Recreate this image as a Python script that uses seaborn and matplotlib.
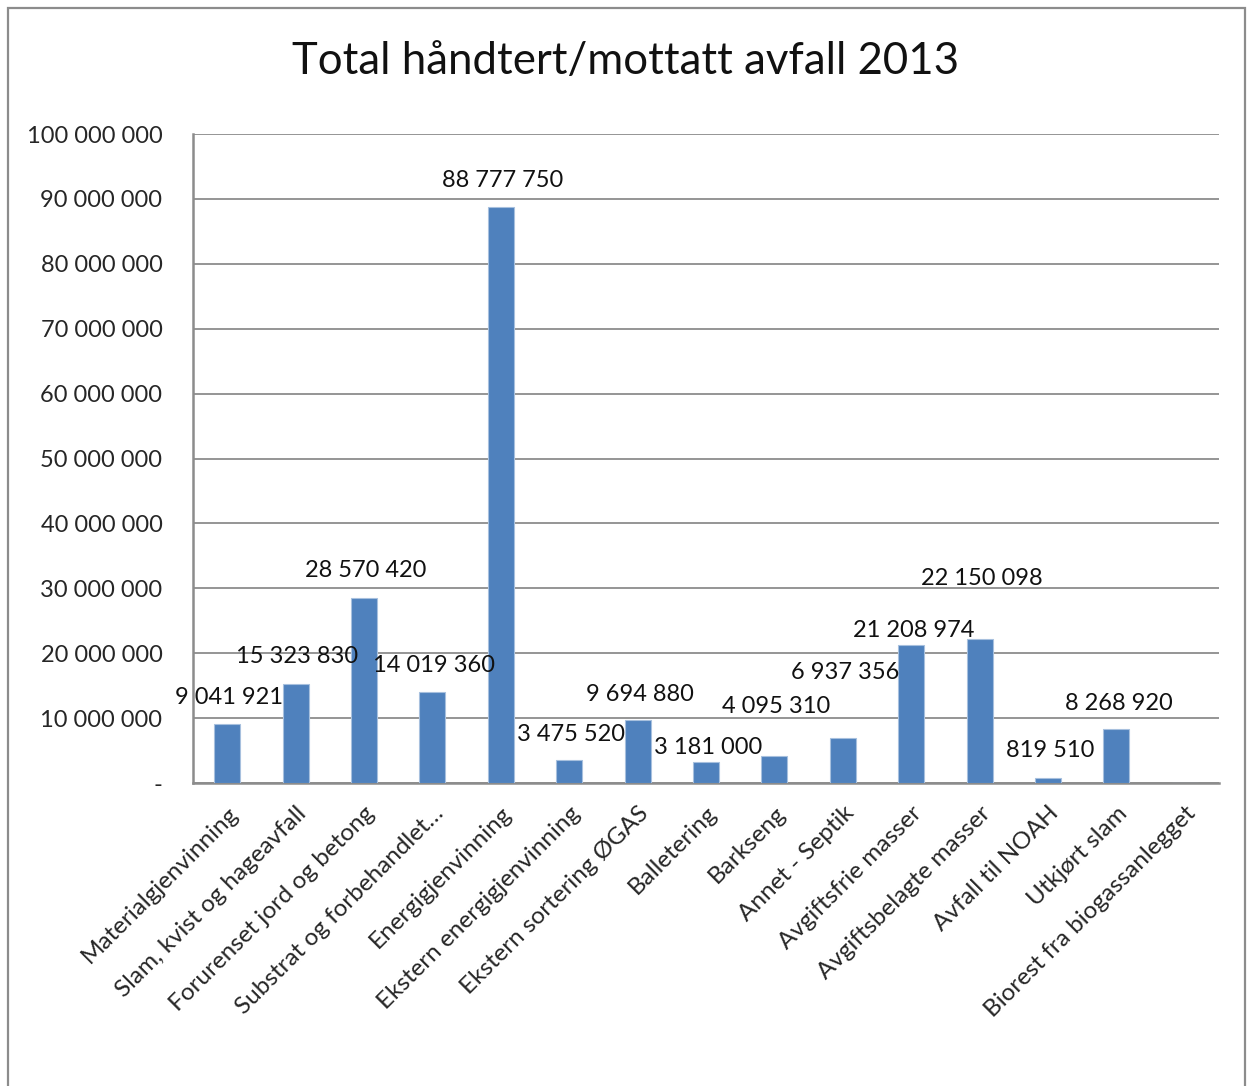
import matplotlib
matplotlib.use("Agg")
import matplotlib.pyplot as plt
import seaborn as sns
import pandas as pd
from matplotlib.patches import Rectangle

categories = [
    "Materialgjenvinning", "Slam, kvist og hageavfall", "Forurenset jord og betong",
    "Substrat og forbehandlet…", "Energigjenvinning", "Ekstern energigjenvinning",
    "Ekstern sortering ØGAS", "Balletering", "Barkseng", "Annet - Septik",
    "Avgiftsfrie masser", "Avgiftsbelagte masser", "Avfall til NOAH",
    "Utkjørt slam", "Biorest fra biogassanlegget",
]
values = [
    9041921, 15323830, 28570420, 14019360, 88777750, 3475520, 9694880,
    3181000, 4095310, 6937356, 21208974, 22150098, 819510, 8268920, 0,
]
y_ticks = list(range(0, 100000001, 10000000))

# label nudges in pixels above the bar top (Excel moved some of them by hand)
label_lift = [27, 27, 27, 27, 26, 26, 26, 15, 50, 65, 15, 61, 27, 26, 0]

df = pd.DataFrame({"kategori": categories, "verdi": values})

sns.set_theme(style="white")
plt.rcParams["font.family"] = ["Lato", "DejaVu Sans"]

fig = plt.figure(figsize=(12.48, 10.86), dpi=100)
ax = fig.add_axes([0.1546, 0.279, 0.8222, 0.5976])

sns.barplot(data=df, x="kategori", y="verdi", color="#4F81BD", width=0.38,
            edgecolor="#A7C0DE", linewidth=0.8, saturation=1, ax=ax, zorder=3)

ax.set_ylim(0, 100000000)
ax.set_yticks(y_ticks)
ax.set_yticklabels(["-"] + [f"{v:,}".replace(",", " ") for v in y_ticks[1:]],
                   fontsize=17)
ax.yaxis.grid(True, color="#8c8c8c", linewidth=1.3, zorder=0)
ax.set_xlabel("")
ax.set_ylabel("")
ax.tick_params(axis="y", length=0, pad=22)
ax.tick_params(axis="x", length=0, pad=14)
ax.set_xticks(range(len(categories)))
ax.set_xticklabels(categories, rotation=45, ha="right", rotation_mode="anchor",
                   fontsize=17.5)

for side in ["top", "right"]:
    ax.spines[side].set_visible(False)
for side in ["left", "bottom"]:
    ax.spines[side].set_color("#8c8c8c")
    ax.spines[side].set_linewidth(1.8)

for i, (v, lift) in enumerate(zip(values, label_lift)):
    if v == 0:
        continue
    ax.annotate(f"{v:,}".replace(",", " "), (i, v), xytext=(2, lift),
                textcoords="offset pixels", ha="center", va="center",
                fontsize=17, color="#111111", zorder=5)

fig.text(0.5016, 0.943, "Total håndtert/mottatt avfall 2013", ha="center",
         va="center", fontsize=31.5, color="#111111")

fig.patches.append(Rectangle((8 / 1248, -0.01), 1237 / 1248, 1 - 8 / 1086 + 0.01,
                             transform=fig.transFigure, fill=False,
                             edgecolor="#8c8c8c", linewidth=1.6))

fig.savefig("out.png", dpi=100)
